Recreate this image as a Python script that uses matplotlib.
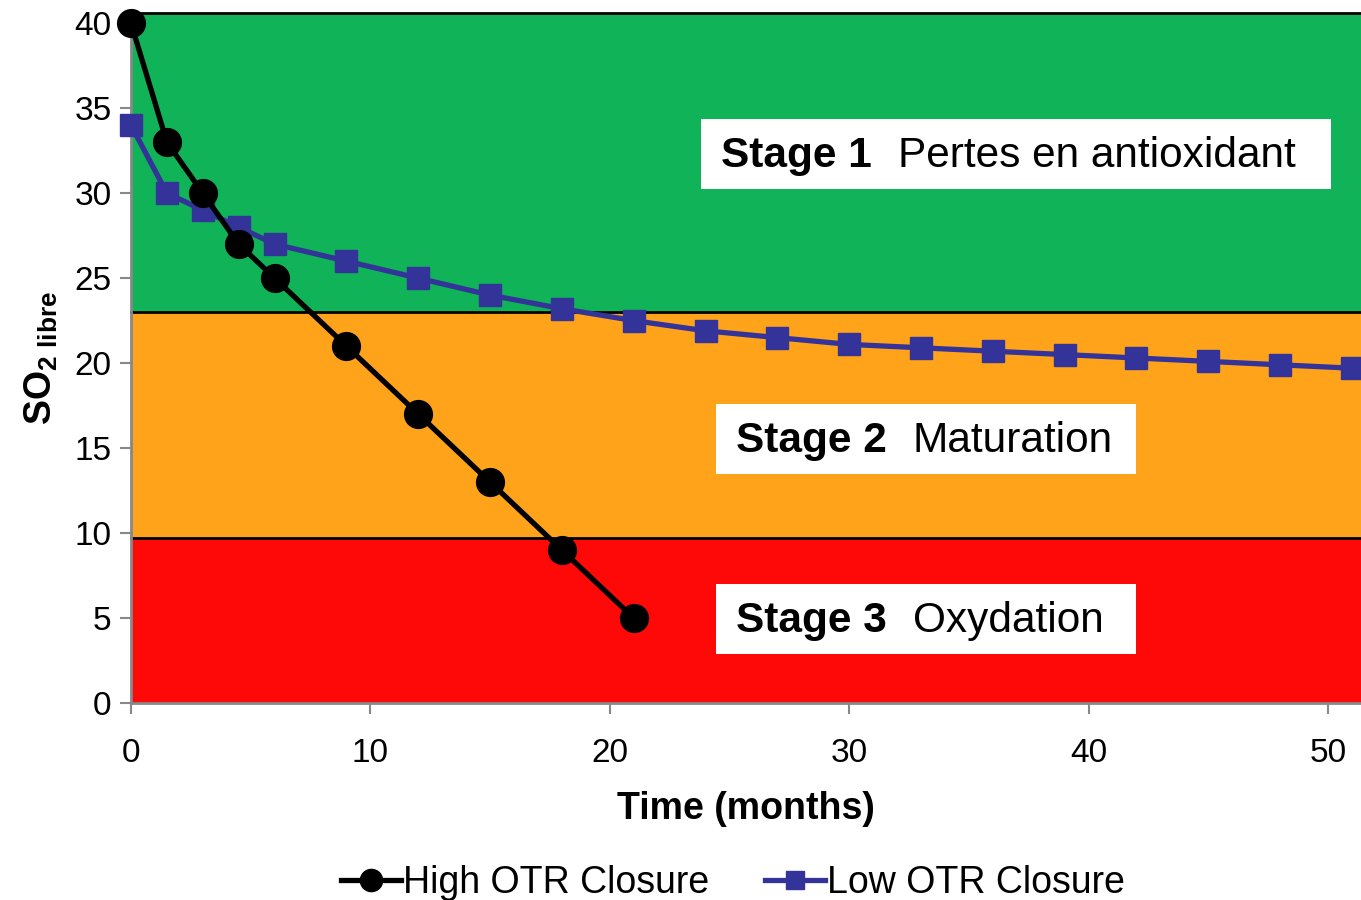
import matplotlib
matplotlib.use("Agg")
import matplotlib.pyplot as plt

plt.rcParams['font.family'] = ['Liberation Sans', 'DejaVu Sans']
plt.rcParams['mathtext.fontset'] = 'custom'
plt.rcParams['mathtext.rm'] = 'Liberation Sans'
plt.rcParams['mathtext.bf'] = 'Liberation Sans:bold'

# Data
high_x = [0, 1.5, 3, 4.5, 6, 9, 12, 15, 18, 21]
high_y = [40, 33, 30, 27, 25, 21, 17, 13, 9, 5]
low_x = [0, 1.5, 3, 4.5, 6, 9, 12, 15, 18, 21, 24, 27, 30, 33, 36, 39, 42, 45, 48, 51]
low_y = [34, 30, 29, 28, 27, 26, 25, 24, 23.2, 22.5, 21.9, 21.5, 21.1, 20.9, 20.7, 20.5, 20.3, 20.1, 19.9, 19.7]
stage_bounds = [0, 9.7, 23, 40.6]
stage_colors = ['#FF0808', '#FFA31A', '#10B357']
xticks = [0, 10, 20, 30, 40, 50]
yticks = [0, 5, 10, 15, 20, 25, 30, 35, 40]

fig = plt.figure(figsize=(13.61, 9), dpi=100)
ax = fig.add_axes([131/1361, 1-703/900, 1-131/1361, 690/900])
ax.set_xlim(0, 51.38)
ax.set_ylim(0, 40.6)

for i in range(3):
    ax.axhspan(stage_bounds[i], stage_bounds[i+1], color=stage_colors[i], zorder=0, lw=0)
for b in stage_bounds[1:]:
    ax.axhline(b, color='black', lw=2, zorder=1, clip_on=False)

ax.plot(low_x, low_y, color='#333399', lw=3.8, marker='s', markersize=16,
        label='Low OTR Closure', zorder=3, clip_on=False)
ax.plot(high_x, high_y, color='black', lw=3.8, marker='o', markersize=20,
        label='High OTR Closure', zorder=4, clip_on=False)

# Stage text boxes (pixel positions converted to axes fraction)
def box(x0, y0, x1, y1, bold, normal):
    fx0 = (x0 - 131) / 1230
    fy0 = (703 - y1) / 690
    w = (x1 - x0) / 1230
    h = (y1 - y0) / 690
    ax.add_patch(plt.Rectangle((fx0, fy0), w, h, transform=ax.transAxes,
                               facecolor='white', edgecolor='none', zorder=5))
    t = ax.text(fx0 + 20/1230, fy0 + h/2 - 0.003, bold, transform=ax.transAxes,
                fontsize=30.5, fontweight='bold', va='center', ha='left', zorder=6)
    fig.canvas.draw()
    bb = t.get_window_extent()
    xpix = bb.x1 + 26
    ax.text(ax.transAxes.inverted().transform((xpix, 0))[0], fy0 + h/2 - 0.003, normal,
            transform=ax.transAxes, fontsize=30.5, va='center', ha='left', zorder=6)

box(701, 119, 1331, 189, "Stage 1", "Pertes en antioxidant")
box(716, 404, 1136, 474, "Stage 2", "Maturation")
box(716, 584, 1136, 654, "Stage 3", "Oxydation")

ax.set_xticks(xticks)
ax.set_yticks(yticks)
ax.tick_params(axis='both', labelsize=24, length=8, width=1.5, color='#888888', direction='out', pad=6)
ax.tick_params(axis='x', pad=17)
for s in ['top', 'right']:
    ax.spines[s].set_visible(False)
for s in ['left', 'bottom']:
    ax.spines[s].set_color('#888888')
    ax.spines[s].set_linewidth(2)

ax.set_xlabel('Time (months)', fontsize=27, fontweight='bold', labelpad=16)
ax.set_ylabel(r'$\mathbf{SO_{2\ libre}}$', fontsize=27, labelpad=10)

handles, labels = ax.get_legend_handles_labels()
fig.legend(handles[::-1], labels[::-1], loc='center', bbox_to_anchor=(733/1361, 1-883/900),
           ncol=2, frameon=False, fontsize=27, handlelength=1.6, handletextpad=0.05,
           columnspacing=1.5, markerscale=0.8)

fig.savefig('out.png', dpi=100)
